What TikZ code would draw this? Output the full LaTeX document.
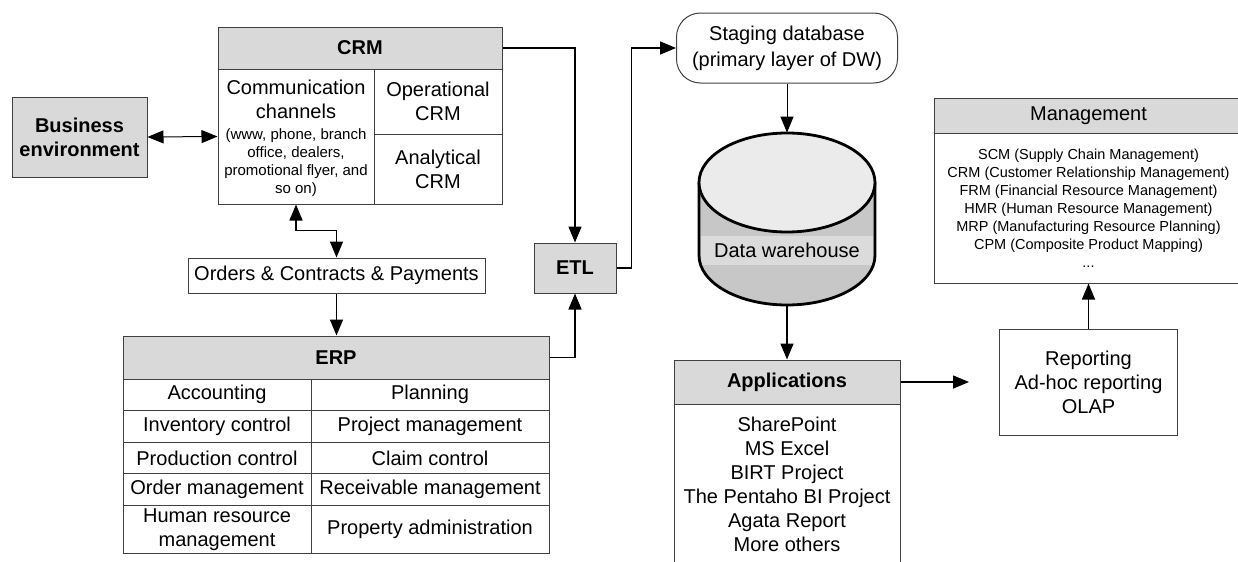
\documentclass[tikz,border=0pt]{standalone}
\usepackage{fontspec}
\setmainfont{Liberation Sans}
\usepackage{xcolor}
\usetikzlibrary{arrows.meta, positioning, calc}

\definecolor{boxgray}{RGB}{217,217,217}
\definecolor{linegray}{RGB}{64,64,64}
\newcommand{\smalltxt}{\fontsize{7.5}{8.9}\selectfont}
\newcommand{\listtxt}{\fontsize{7.25}{9}\selectfont}

\begin{document}
\begin{tikzpicture}[
    x=0.5pt, y=-0.5pt,
    >={Triangle[length=8pt, width=6.5pt]},
    box/.style={rectangle, draw=linegray, line width=0.5pt, inner sep=0pt, align=center},
    head/.style={box, fill=boxgray, font=\bfseries},
    plain/.style={inner sep=0pt, align=center},
    conn/.style={->, line width=0.75pt},
    thinconn/.style={->, line width=0.5pt}
]
    \useasboundingbox (0,0) rectangle (1238,562);

    % Business environment
    \node[head, minimum width=67.5pt, minimum height=40pt] (benv) at (79.5,137) {Business\\environment};

    % CRM
    \node[head, minimum width=142pt, minimum height=21pt] (crmhead) at (360,48) {CRM};
    \node[box, minimum width=78pt, minimum height=67.5pt] (crmcomm) at (296,136.5) {};
    \node[plain] (commtitle) at (296,99) {Communication\\channels};
    \node[plain, font=\smalltxt] (commnote) at (296,162.5) {(www, phone, branch\\office, dealers,\\promotional flyer, and\\so on)};
    \node[box, minimum width=64pt, minimum height=32.5pt] (crmop) at (438,101.5) {Operational\\CRM};
    \node[box, minimum width=64pt, minimum height=35pt] (crmana) at (438,169) {Analytical\\CRM};

    % Orders
    \node[box, minimum width=148.5pt, minimum height=17.5pt] (orders) at (336.5,275.5) {Orders \& Contracts \& Payments};

    % ERP
    \node[head, minimum width=213pt, minimum height=21.5pt] (erphead) at (336,357.5) {ERP};
    \node[box, minimum width=94pt, minimum height=15.8pt] (erpl1) at (217,394.8) {Accounting};
    \node[box, minimum width=119pt, minimum height=15.8pt] (erpr1) at (430,394.8) {Planning};
    \node[box, minimum width=94pt, minimum height=15.8pt] (erpl2) at (217,426.4) {Inventory control};
    \node[box, minimum width=119pt, minimum height=15.8pt] (erpr2) at (430,426.4) {Project management};
    \node[box, minimum width=94pt, minimum height=15.8pt] (erpl3) at (217,458) {Production control};
    \node[box, minimum width=119pt, minimum height=15.8pt] (erpr3) at (430,458) {Claim control};
    \node[box, minimum width=94pt, minimum height=15.8pt] (erpl4) at (217,489.6) {Order management};
    \node[box, minimum width=119pt, minimum height=15.8pt] (erpr4) at (430,489.6) {Receivable management};
    \node[box, minimum width=94pt, minimum height=23.8pt] (erpl5) at (217,529.2) {Human resource\\management};
    \node[box, minimum width=119pt, minimum height=23.8pt] (erpr5) at (430,529.2) {Property administration};

    % ETL
    \node[head, minimum width=41pt, minimum height=25pt] (etl) at (575,268) {ETL};

    % Staging database
    \node[box, rounded corners=12pt, font=\fontsize{10}{13}\selectfont, minimum width=110.5pt, minimum height=35pt] (stage) at (787,48) {Staging database\\(primary layer of DW)};

    % Data warehouse
    \fill[black!22] (699,182.5) -- (699,255.5) arc[start angle=180, end angle=360, x radius=44pt, y radius=24.75pt] -- (875,182.5) -- cycle;
    \node[plain, fill=black!14, minimum width=86pt, minimum height=14.5pt] (dwtext) at (787,250) {Data warehouse};
    \draw[line width=1.4pt] (699,182.5) -- (699,255.5) arc[start angle=180, end angle=360, x radius=44pt, y radius=24.75pt] -- (875,182.5);
    \draw[line width=1.4pt, fill=black!8] (787,182.5) ellipse[x radius=44pt, y radius=24.75pt];
    \node[minimum width=88pt, minimum height=86pt, inner sep=0pt] (dwh) at (787,219) {};

    % Applications
    \node[head, minimum width=113pt, minimum height=22pt] (apphead) at (787,382) {Applications};
    \node[box, minimum width=113pt, minimum height=80pt] (appbody) at (787,484) {SharePoint\\MS Excel\\BIRT Project\\The Pentaho BI Project\\Agata Report\\More others};

    % Reporting
    \node[box, minimum width=89pt, minimum height=53pt] (report) at (1088.5,382) {Reporting\\Ad-hoc reporting\\OLAP};

    % Management
    \node[box, fill=boxgray, minimum width=154pt, minimum height=17.5pt] (mgmthead) at (1088.5,115.5) {Management};
    \node[box, font=\listtxt, minimum width=154pt, minimum height=75pt] (mgmtbody) at (1088.5,208) {SCM (Supply Chain Management)\\CRM (Customer Relationship Management)\\FRM (Financial Resource Management)\\HMR (Human Resource Management)\\MRP (Manufacturing Resource Planning)\\CPM (Composite Product Mapping)\\...};

    % connectors
    \draw[<->, line width=0.5pt] (benv.east) -- (crmcomm.west);
    \draw[<->, line width=0.75pt] (crmcomm.south) -- ++(0,26) -| (orders.north);
    \draw[conn] (orders.south) -- (orders.south |- erphead.north);
    \draw[conn] (crmhead.east) -| (etl.north);
    \draw[conn] (erphead.east) -| (etl.south);
    \draw[conn] (etl.east) -- ++(15,0) |- (stage.west);
    \draw[thinconn] (stage.south) -- (dwh.north);
    \draw[conn] (dwh.south) -- (apphead.north);
    \draw[conn, shorten >=15pt] (apphead.east) -- (report.west);
    \draw[conn] (report.north) -- (mgmtbody.south);
\end{tikzpicture}
\end{document}
